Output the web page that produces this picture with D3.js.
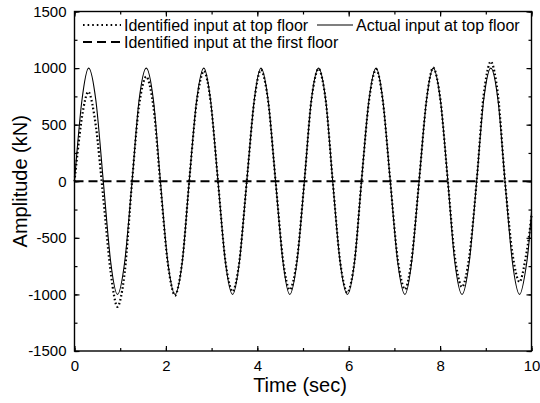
<!DOCTYPE html>
<html>
<head>
<meta charset="utf-8">
<script src="https://cdn.jsdelivr.net/npm/d3@7"></script>
<style>
  body { margin: 0; background: #fff; }
  svg { display: block; }
  text { font-family: 'Liberation Sans', Arial, sans-serif; fill: #000; }
</style>
</head>
<body>
<div id="chart"></div>
<script>
/* time samples (sec) */
const times = [0, 0.16, 0.31, 0.47, 0.63, 0.79, 0.94, 1.10, 1.26, 1.41,
  1.57, 1.73, 1.88, 2.04, 2.20, 2.36, 2.51, 2.67, 2.83, 2.98,
  3.14, 3.30, 3.46, 3.61, 3.77, 3.93, 4.08, 4.24, 4.40, 4.56,
  4.71, 4.87, 5.03, 5.18, 5.34, 5.50, 5.65, 5.81, 5.97, 6.13,
  6.28, 6.44, 6.60, 6.75, 6.91, 7.07, 7.23, 7.38, 7.54, 7.70,
  7.85, 8.01, 8.17, 8.32, 8.48, 8.64, 8.80, 8.95, 9.11, 9.27,
  9.42, 9.58, 9.74, 9.90, 10.00];

const actualTop = [0, 707, 1000, 707, 0, -707, -1000, -707, 0, 707,
  1000, 707, 0, -707, -1000, -707, 0, 707, 1000, 707,
  0, -707, -1000, -707, 0, 707, 1000, 707, 0, -707,
  -1000, -707, 0, 707, 1000, 707, 0, -707, -1000, -707,
  0, 707, 1000, 707, 0, -707, -1000, -707, 0, 707,
  1000, 707, 0, -707, -1000, -707, 0, 707, 1000, 707,
  0, -707, -1000, -707, -270];

const identifiedTop = [0, 560, 790, 480, -150, -800, -1110, -800, 0, 660,
  925, 650, -30, -720, -1010, -700, 0, 690, 975, 700,
  0, -700, -975, -700, 0, 700, 985, 700, 0, -690,
  -960, -690, 0, 705, 995, 705, 0, -700, -985, -700,
  0, 700, 990, 700, 0, -680, -955, -680, 0, 710,
  1005, 710, 0, -660, -935, -660, 0, 750, 1058, 750,
  0, -630, -890, -610, -300];

const firstFloorTimes = [0, 10];
const identifiedFirst = [0, 0];

const xTicks = [0, 2, 4, 6, 8, 10];
const yTicks = [-1500, -1000, -500, 0, 500, 1000, 1500];

const W = 540, H = 403;
const m = { left: 74.5, top: 11.5, right: 8.5, bottom: 52 };
const iw = W - m.left - m.right, ih = H - m.top - m.bottom;

const svg = d3.select('#chart').append('svg')
  .attr('width', W).attr('height', H);

const x = d3.scaleLinear().domain([0, 10]).range([0, iw]);
const y = d3.scaleLinear().domain([-1500, 1500]).range([ih, 0]);

const g = svg.append('g').attr('transform', `translate(${m.left},${m.top})`);

// ─── Series ───
const line = d3.line().x(d => x(d[0])).y(d => y(d[1])).curve(d3.curveCardinal.tension(0.1));

g.append('path')
  .datum(times.map((t, i) => [t, actualTop[i]]))
  .attr('d', line)
  .attr('fill', 'none').attr('stroke', '#000').attr('stroke-width', 1.1);

g.append('path')
  .datum(times.map((t, i) => [t, identifiedTop[i]]))
  .attr('d', line)
  .attr('fill', 'none').attr('stroke', '#000').attr('stroke-width', 2.2)
  .attr('stroke-dasharray', '1.6,2.4');

g.append('path')
  .datum(firstFloorTimes.map((t, i) => [t, identifiedFirst[i]]))
  .attr('d', d3.line().x(d => x(d[0])).y(d => y(d[1])))
  .attr('fill', 'none').attr('stroke', '#000').attr('stroke-width', 2)
  .attr('stroke-dasharray', '9,5');

// ─── Axes (ticks inward on all sides) ───
function styleAxis(sel) {
  sel.select('.domain').remove();
  sel.selectAll('line').attr('stroke', '#000').attr('stroke-width', 1.2);
  sel.selectAll('text').attr('font-size', '15px')
    .attr('font-family', "'Liberation Sans', Arial, sans-serif");
}

const xMinor = d3.range(0, 10.01, 1);
const yMinor = d3.range(-1500, 1501, 250);
const fmt = d => String(d);

g.append('g').attr('transform', `translate(0,${ih})`)
  .call(d3.axisBottom(x).tickValues(xMinor).tickSize(-3).tickFormat(''))
  .call(styleAxis);
g.append('g').attr('transform', `translate(0,${ih})`)
  .call(d3.axisBottom(x).tickValues(xTicks).tickSize(-5).tickPadding(9).tickFormat(fmt))
  .call(styleAxis);
g.append('g')
  .call(d3.axisTop(x).tickValues(xMinor).tickSize(-3).tickFormat(''))
  .call(styleAxis);
g.append('g')
  .call(d3.axisTop(x).tickValues(xTicks).tickSize(-5).tickFormat(''))
  .call(styleAxis);

g.append('g')
  .call(d3.axisLeft(y).tickValues(yMinor).tickSize(-3).tickFormat(''))
  .call(styleAxis);
g.append('g')
  .call(d3.axisLeft(y).tickValues(yTicks).tickSize(-5).tickPadding(8).tickFormat(fmt))
  .call(styleAxis);
g.append('g').attr('transform', `translate(${iw},0)`)
  .call(d3.axisRight(y).tickValues(yMinor).tickSize(-3).tickFormat(''))
  .call(styleAxis);
g.append('g').attr('transform', `translate(${iw},0)`)
  .call(d3.axisRight(y).tickValues(yTicks).tickSize(-5).tickFormat(''))
  .call(styleAxis);

// frame
g.append('rect')
  .attr('width', iw).attr('height', ih)
  .attr('fill', 'none').attr('stroke', '#000').attr('stroke-width', 1.4);

// ─── Axis titles ───
svg.append('text')
  .attr('x', 300).attr('y', 392)
  .attr('text-anchor', 'middle').attr('font-size', '20px')
  .text('Time (sec)');

svg.append('text')
  .attr('transform', `translate(27,${m.top + ih / 2}) rotate(-90)`)
  .attr('text-anchor', 'middle').attr('font-size', '20px')
  .text('Amplitude (kN)');

// ─── Legend ───
const legend = [
  { label: 'Identified input at top floor', x: 83, y: 25, len: 38, dash: '1.6,3', w: 2 },
  { label: 'Actual input at top floor', x: 317, y: 25, len: 36, dash: null, w: 1.1 },
  { label: 'Identified input at the first floor', x: 83, y: 42, len: 38, dash: '9,5', w: 2 },
];
legend.forEach(d => {
  svg.append('line')
    .attr('x1', d.x).attr('x2', d.x + d.len)
    .attr('y1', d.y).attr('y2', d.y)
    .attr('stroke', '#000').attr('stroke-width', d.w)
    .attr('stroke-dasharray', d.dash);
  svg.append('text')
    .attr('x', d.x + d.len + 3).attr('y', d.y + 6)
    .attr('font-size', '16px')
    .text(d.label);
});
</script>
</body>
</html>
